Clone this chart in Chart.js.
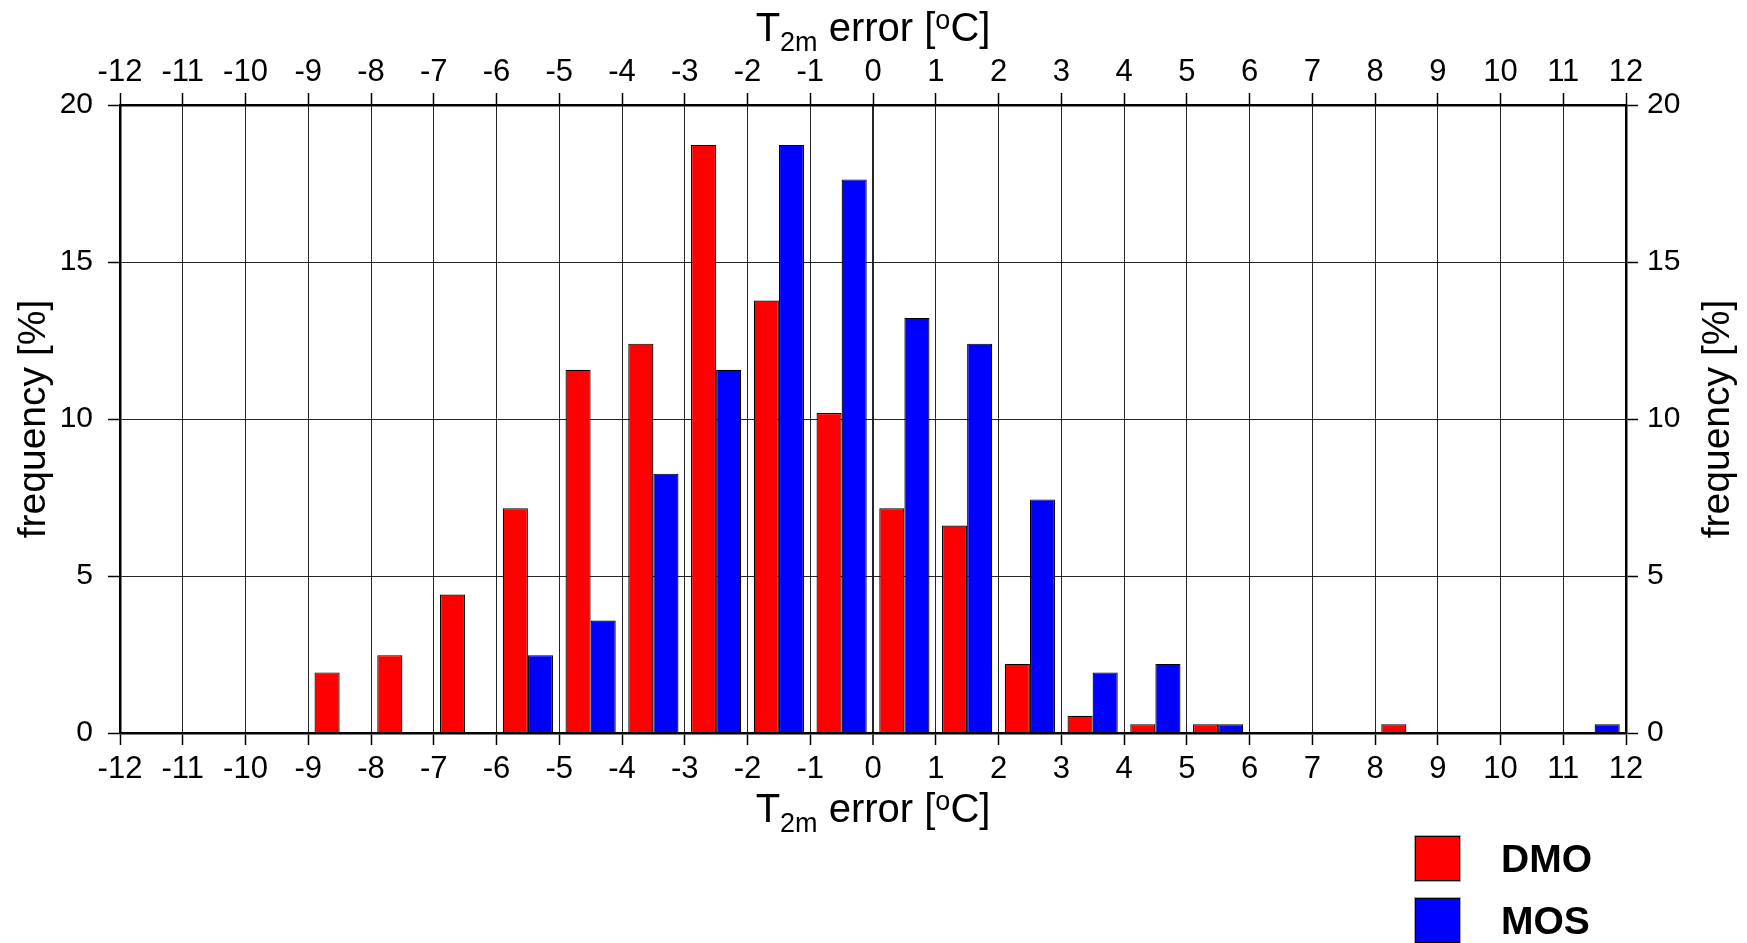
<!DOCTYPE html>
<html>
<head>
<meta charset="utf-8">
<script src="https://cdn.jsdelivr.net/npm/chart.js@4.4.1/dist/chart.umd.min.js"></script>
<style>
  body { margin: 0; background: #fff; }
  #wrap { position: relative; width: 1747px; height: 943px; overflow: hidden; }
  #legend { position: absolute; left: 1415px; top: 836px; font: bold 39px "Liberation Sans", Arial, sans-serif; color: #000; }
  .item { display: flex; align-items: center; height: 45px; margin-bottom: 17px; }
  .box { width: 43px; height: 43px; border: 1px solid #000; box-shadow: 0 0 0 1px #aaa; margin-right: 41px; }
</style>
</head>
<body>
<div id="wrap">
  <canvas id="histChart" width="1747" height="943"></canvas>
  <div id="legend"></div>
</div>
<script>
// bins of 1 degree from -12 to 12, bars placed at bin centres
const binCenters = [-11.5, -10.5, -9.5, -8.5, -7.5, -6.5, -5.5, -4.5, -3.5, -2.5, -1.5, -0.5,
                    0.5, 1.5, 2.5, 3.5, 4.5, 5.5, 6.5, 7.5, 8.5, 9.5, 10.5, 11.5];
const dmoFreq = [null, null, null, 1.93, 2.48, 4.41, 7.16, 11.57, 12.40, 18.73, 13.77, 10.19,
                 7.16, 6.61, 2.20, 0.55, 0.28, 0.28, null, null, 0.28, null, null, null];
const mosFreq = [null, null, null, null, null, null, 2.48, 3.58, 8.26, 11.57, 18.73, 17.63,
                 13.22, 12.40, 7.44, 1.93, 2.20, 0.28, null, null, null, null, null, 0.28];
const xTickValues = [-12, -11, -10, -9, -8, -7, -6, -5, -4, -3, -2, -1, 0,
                     1, 2, 3, 4, 5, 6, 7, 8, 9, 10, 11, 12];
const yTickValues = [0, 5, 10, 15, 20];

const FONT = '"Liberation Sans", Arial, sans-serif';
Chart.defaults.font.family = FONT;
Chart.defaults.color = '#000';

function toPoints(values) {
  return binCenters.map((c, i) => ({ x: c, y: values[i] })).filter(p => p.y !== null);
}

// title pieces: T with subscript 2m, superscript o
const xTitleParts = [
  { text: 'T', size: 40, shift: 0 },
  { text: '2m', size: 27, shift: 10 },
  { text: ' error [', size: 40, shift: 0 },
  { text: 'o', size: 27, shift: -12 },
  { text: 'C]', size: 40, shift: 0 }
];

function drawRich(ctx, parts, cx, baseline) {
  let total = 0;
  parts.forEach(p => {
    ctx.font = p.size + 'px ' + FONT;
    p.w = ctx.measureText(p.text).width;
    total += p.w;
  });
  let x = cx - total / 2;
  ctx.textAlign = 'left';
  ctx.textBaseline = 'alphabetic';
  parts.forEach(p => {
    ctx.font = p.size + 'px ' + FONT;
    ctx.fillText(p.text, x, baseline + p.shift);
    x += p.w;
  });
}

const axisTitles = {
  id: 'axisTitles',
  afterDraw(chart) {
    const ctx = chart.ctx;
    const a = chart.chartArea;
    const cx = (a.left + a.right) / 2;
    const cy = (a.top + a.bottom) / 2;
    ctx.save();
    ctx.fillStyle = '#000';
    drawRich(ctx, xTitleParts, cx, a.top - 64);
    drawRich(ctx, xTitleParts, cx, a.bottom + 89);
    ctx.font = '39px ' + FONT;
    ctx.textAlign = 'center';
    ctx.textBaseline = 'middle';
    [a.left - 86, a.right + 92].forEach(x => {
      ctx.save();
      ctx.translate(x, cy);
      ctx.rotate(-Math.PI / 2);
      ctx.fillText('frequency [%]', 0, 0);
      ctx.restore();
    });
    ctx.restore();
  }
};

const gridColor = 'rgba(0,0,0,0.85)';
const zeroWidth = ctx => (ctx.tick && ctx.tick.value === 0 ? 2 : 1);

const chart = new Chart(document.getElementById('histChart'), {
  type: 'bar',
  data: {
    datasets: [{
      label: 'DMO',
      data: toPoints(dmoFreq),
      backgroundColor: '#ff0000',
      borderColor: '#000',
      borderWidth: 1.2,
      barPercentage: 1,
      categoryPercentage: 0.8
    }, {
      label: 'MOS',
      data: toPoints(mosFreq),
      backgroundColor: '#0000ff',
      borderColor: '#000',
      borderWidth: 1.2,
      barPercentage: 1,
      categoryPercentage: 0.8
    }]
  },
  options: {
    responsive: false,
    animation: false,
    layout: { padding: 0 },
    plugins: {
      legend: { display: false },
      tooltip: { enabled: false }
    },
    scales: {
      x: {
        type: 'linear',
        position: 'bottom',
        min: -12,
        max: 12,
        offset: false,
        afterBuildTicks: s => { s.ticks = xTickValues.map(v => ({ value: v })); },
        ticks: { font: { size: 31 }, color: '#000', padding: 6, maxRotation: 0, autoSkip: false },
        grid: { color: gridColor, lineWidth: zeroWidth, tickLength: 12, tickColor: '#000', tickWidth: 1.5, offset: false },
        border: { color: '#000', width: 2.5, z: 1 },
        afterFit: s => { s.height = 210; }
      },
      xTop: {
        type: 'linear',
        position: 'top',
        min: -12,
        max: 12,
        offset: false,
        afterBuildTicks: s => { s.ticks = xTickValues.map(v => ({ value: v })); },
        ticks: { font: { size: 31 }, color: '#000', padding: 2, maxRotation: 0, autoSkip: false },
        grid: { drawOnChartArea: false, tickLength: 12, tickColor: '#000', tickWidth: 1.5, offset: false },
        border: { color: '#000', width: 2.5, z: 1 },
        afterFit: s => { s.height = 105; }
      },
      y: {
        position: 'left',
        min: 0,
        max: 20,
        afterBuildTicks: s => { s.ticks = yTickValues.map(v => ({ value: v })); },
        ticks: { font: { size: 30 }, color: '#000', padding: 15 },
        grid: { color: gridColor, lineWidth: 1, tickLength: 12, tickColor: '#000', tickWidth: 1.5 },
        border: { color: '#000', width: 2.5, z: 1 },
        afterFit: s => { s.width = 120; }
      },
      yRight: {
        position: 'right',
        min: 0,
        max: 20,
        afterBuildTicks: s => { s.ticks = yTickValues.map(v => ({ value: v })); },
        ticks: { font: { size: 30 }, color: '#000', padding: 9 },
        grid: { drawOnChartArea: false, tickLength: 12, tickColor: '#000', tickWidth: 1.5 },
        border: { color: '#000', width: 2.5, z: 1 },
        afterFit: s => { s.width = 121; }
      }
    }
  },
  plugins: [axisTitles]
});

// html legend from the datasets
const legendEl = document.getElementById('legend');
chart.data.datasets.forEach(ds => {
  const item = document.createElement('div');
  item.className = 'item';
  const box = document.createElement('span');
  box.className = 'box';
  box.style.background = ds.backgroundColor;
  const label = document.createElement('span');
  label.textContent = ds.label;
  item.appendChild(box);
  item.appendChild(label);
  legendEl.appendChild(item);
});
</script>
</body>
</html>
